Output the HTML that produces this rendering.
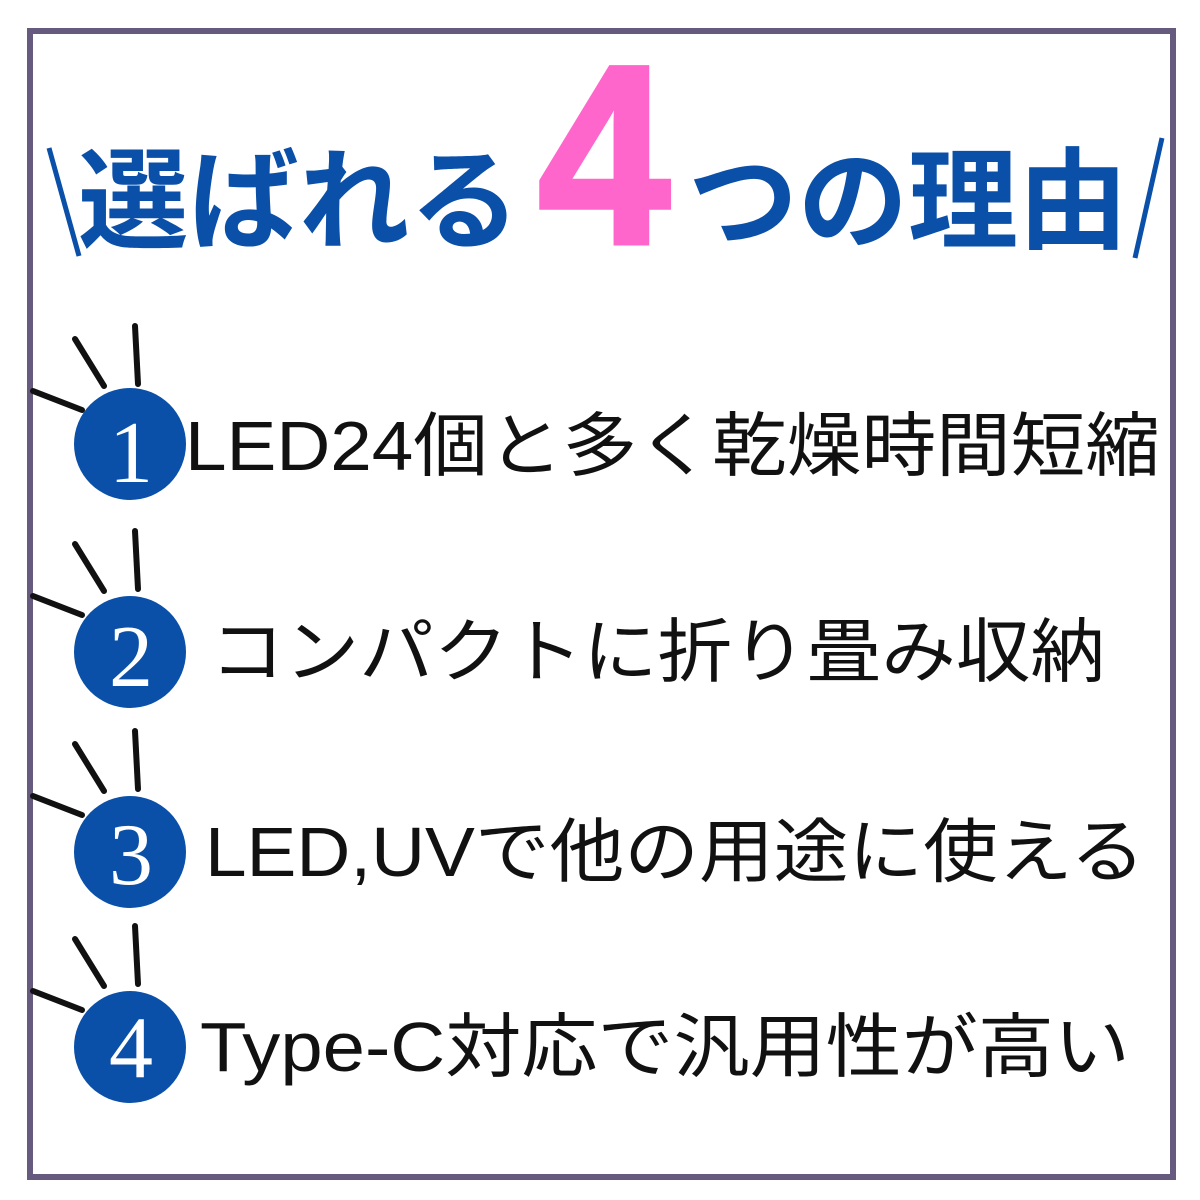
<!DOCTYPE html>
<html><head><meta charset="utf-8"><style>
html,body{margin:0;padding:0;background:#fff;width:1200px;height:1200px;overflow:hidden}
svg{display:block}
</style></head><body>
<svg width="1200" height="1200" viewBox="0 0 1200 1200" xmlns="http://www.w3.org/2000/svg">
<rect x="0" y="0" width="1200" height="1200" fill="#fff"/>
<rect x="30" y="31" width="1143" height="1146" fill="none" stroke="#665a7e" stroke-width="6"/>
<g font-family="'Noto Sans CJK JP','Liberation Sans',sans-serif" font-weight="bold" fill="#0a4fa8">
<text x="78" y="240" font-size="110" textLength="442" lengthAdjust="spacingAndGlyphs">選ばれる</text>
<text x="688" y="240" font-size="110" textLength="440" lengthAdjust="spacingAndGlyphs">つの理由</text>
</g>
<text x="538" y="243" font-family="'Liberation Sans',sans-serif" font-weight="bold" font-size="255" fill="#ff66cc" stroke="#ff66cc" stroke-width="5" textLength="132" lengthAdjust="spacingAndGlyphs">4</text>
<line x1="49" y1="148" x2="79" y2="256" stroke="#0a4fa8" stroke-width="5"/>
<line x1="1162" y1="138" x2="1135" y2="258" stroke="#0a4fa8" stroke-width="5"/>
<g stroke="#111" stroke-width="6" stroke-linecap="round">
<g id="r1"><line x1="33" y1="391" x2="82" y2="410"/><line x1="75" y1="339" x2="104" y2="386"/><line x1="135" y1="326" x2="138" y2="384"/></g>
<use href="#r1" transform="translate(0,205)"/>
<use href="#r1" transform="translate(0,405)"/>
<use href="#r1" transform="translate(0,600)"/>
</g>
<g fill="#0a4fa8">
<circle cx="130" cy="444" r="56"/>
<circle cx="130" cy="652" r="56"/>
<circle cx="130" cy="852" r="56"/>
<circle cx="130" cy="1047" r="56"/>
</g>
<g font-family="'Liberation Serif',serif" font-size="88" fill="#fff" text-anchor="middle">
<text x="131" y="482">1</text>
<text x="131" y="686">2</text>
<text x="131" y="884">3</text>
<text x="131" y="1077">4</text>
</g>
<g font-family="'Liberation Sans','Noto Sans CJK JP',sans-serif" font-size="70" fill="#111">
<text x="185" y="470" textLength="975" lengthAdjust="spacingAndGlyphs">LED24個と多く乾燥時間短縮</text>
<text x="210" y="676" textLength="895" lengthAdjust="spacingAndGlyphs">コンパクトに折り畳み収納</text>
<text x="205" y="876" textLength="940" lengthAdjust="spacingAndGlyphs">LED,UVで他の用途に使える</text>
<text x="200" y="1071" textLength="930" lengthAdjust="spacingAndGlyphs">Type-C対応で汎用性が高い</text>
</g>
</svg>
</body></html>
